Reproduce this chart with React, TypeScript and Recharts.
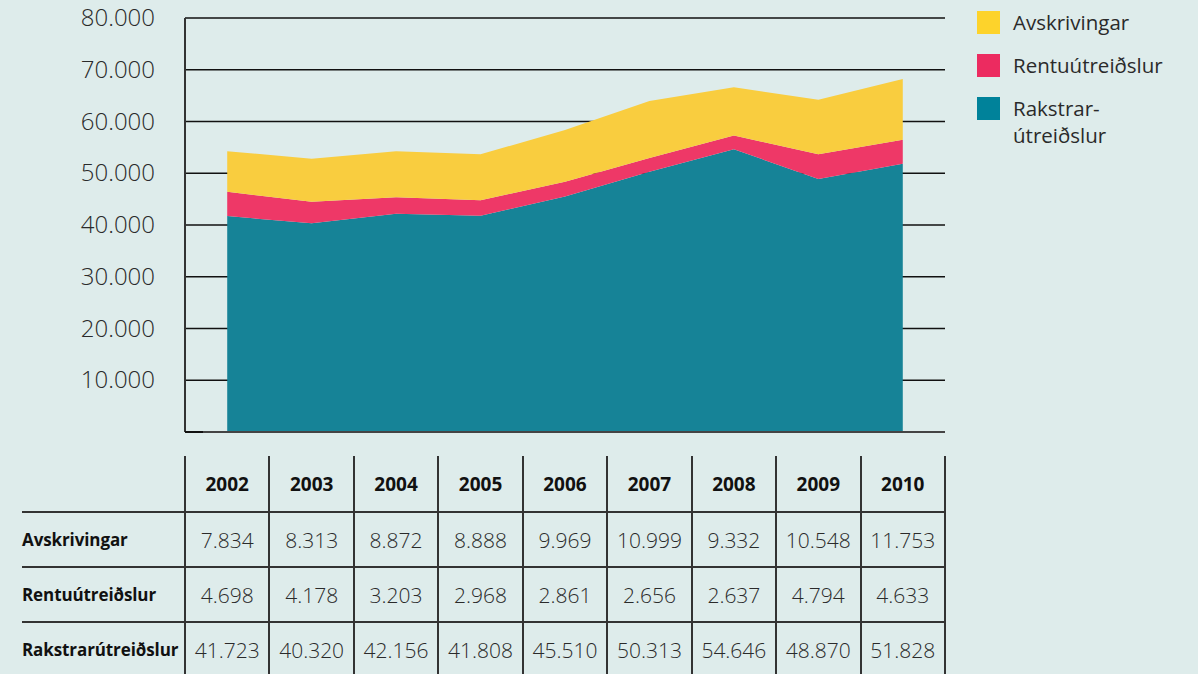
import React from "react"
import { AreaChart, Area, XAxis, YAxis, CartesianGrid } from "recharts"

const years = ["2002", "2003", "2004", "2005", "2006", "2007", "2008", "2009", "2010"]
const avskrivingar = [7834, 8313, 8872, 8888, 9969, 10999, 9332, 10548, 11753]
const rentuutgjold = [4698, 4178, 3203, 2968, 2861, 2656, 2637, 4794, 4633]
const rakstrar = [41723, 40320, 42156, 41808, 45510, 50313, 54646, 48870, 51828]
const yTicks = [0, 10000, 20000, 30000, 40000, 50000, 60000, 70000, 80000]

const series = [
    { key: "rakstrar", name: "Rakstrarútreiðslur", legend: ["Rakstrar-", "útreiðslur"], color: "#168397", legendColor: "#00829a", values: rakstrar },
    { key: "rentu", name: "Rentuútreiðslur", legend: ["Rentuútreiðslur"], color: "#ee3867", legendColor: "#ec2b60", values: rentuutgjold },
    { key: "avskr", name: "Avskrivingar", legend: ["Avskrivingar"], color: "#f9cd3f", legendColor: "#fdd32b", values: avskrivingar },
]

const data = years.map((year, i) => ({
    year,
    rakstrar: rakstrar[i],
    rentu: rentuutgjold[i],
    avskr: avskrivingar[i],
}))

const fmt = (n: number) => String(n).replace(/\B(?=(\d{3})+(?!\d))/g, ".")

const FONT = "'Open Sans', 'DejaVu Sans', sans-serif"
const BG = "#deeceb"
const PLOT_LEFT = 185
const PLOT_RIGHT = 945
const COL_W = (PLOT_RIGHT - PLOT_LEFT) / years.length

const YTick = (props: any) => {
    const { x, y, payload } = props
    if (payload.value === 0) {
        return <line x1={PLOT_LEFT} x2={PLOT_LEFT + 18} y1={y} y2={y} stroke="#111" strokeWidth={2} />
    }
    return (
        <text x={x} y={y} dy={8} textAnchor="end" fill="#2a2a2a" fontSize={24} fontFamily={FONT} fontWeight={300}>
            {fmt(payload.value)}
        </text>
    )
}

// legend kept outside the chart so it doesn't shrink the plot area
const ChartLegend = () => {
    const items = [...series].reverse()
    return (
        <div style={{ position: "absolute", left: 977, top: 11, fontFamily: FONT, color: "#2a2a2a", fontSize: 20.5 }}>
            {items.map((s) => (
                <div key={s.key} style={{ display: "flex", alignItems: "flex-start", marginBottom: 18 }}>
                    <div style={{ width: 23, height: 23, background: s.legendColor, marginRight: 13, flexShrink: 0 }} />
                    <div style={{ lineHeight: "27px", marginTop: -2 }}>
                        {s.legend.map((l) => (
                            <div key={l}>{l}</div>
                        ))}
                    </div>
                </div>
            ))}
        </div>
    )
}

const rows = [
    { label: "Avskrivingar", values: avskrivingar },
    { label: "Rentuútreiðslur", values: rentuutgjold },
    { label: "Rakstrarútreiðslur", values: rakstrar },
]

const DataTable = () => {
    const top = 456
    const headH = 56
    const rowH = 55
    const lineColor = "#333"
    return (
        <div style={{ position: "absolute", left: 0, top: 0, width: 1198, height: 674, fontFamily: FONT, pointerEvents: "none" }}>
            {Array.from({ length: years.length + 1 }).map((_, k) => (
                <div key={"v" + k} style={{ position: "absolute", left: PLOT_LEFT + k * COL_W - 1, top, width: 2, height: 674 - top, background: lineColor }} />
            ))}
            {rows.map((_, r) => (
                <div key={"h" + r} style={{ position: "absolute", left: 22, top: top + headH + r * rowH - 1, width: PLOT_RIGHT - 22, height: 2, background: lineColor }} />
            ))}
            {years.map((y, k) => (
                <div key={y} style={{ position: "absolute", left: PLOT_LEFT + k * COL_W, top, width: COL_W, height: headH, display: "flex", alignItems: "center", justifyContent: "center", fontWeight: 700, fontSize: 19, color: "#111" }}>
                    {y}
                </div>
            ))}
            {rows.map((row, r) => (
                <React.Fragment key={row.label}>
                    <div style={{ position: "absolute", left: 22, top: top + headH + r * rowH, height: rowH, display: "flex", alignItems: "center", fontWeight: 700, fontSize: 17, color: "#111", letterSpacing: -0.1 }}>
                        {row.label}
                    </div>
                    {row.values.map((v, k) => (
                        <div key={k} style={{ position: "absolute", left: PLOT_LEFT + k * COL_W, top: top + headH + r * rowH, width: COL_W, height: rowH, display: "flex", alignItems: "center", justifyContent: "center", fontSize: 21, color: "#2a2a2a", fontWeight: 300 }}>
                            {fmt(v)}
                        </div>
                    ))}
                </React.Fragment>
            ))}
        </div>
    )
}

export default function App() {
    return (
        <div style={{ position: "absolute", left: 0, top: 0, width: 1198, height: 674, background: BG, overflow: "hidden" }}>
            <AreaChart width={1198} height={440} data={data} margin={{ top: 18, right: 1198 - PLOT_RIGHT, bottom: 6, left: 0 }}>
                <CartesianGrid vertical={false} stroke="#111" strokeWidth={1.5} horizontalValues={yTicks.slice(1)} />
                <XAxis dataKey="year" padding={{ left: COL_W / 2, right: COL_W / 2 }} tick={false} tickLine={false} axisLine={{ stroke: "#444", strokeWidth: 2 }} height={2} />
                <YAxis width={PLOT_LEFT} domain={[0, 80000]} ticks={yTicks} tickSize={0} tickMargin={30} tick={<YTick />} axisLine={{ stroke: "#333", strokeWidth: 2 }} tickLine={false} interval={0} />
                {series.map((s) => (
                    <Area key={s.key} type="linear" dataKey={s.key} name={s.name} stackId="1" stroke="none" fill={s.color} fillOpacity={1} isAnimationActive={false} />
                ))}
            </AreaChart>
            <ChartLegend />
            <DataTable />
        </div>
    )
}
